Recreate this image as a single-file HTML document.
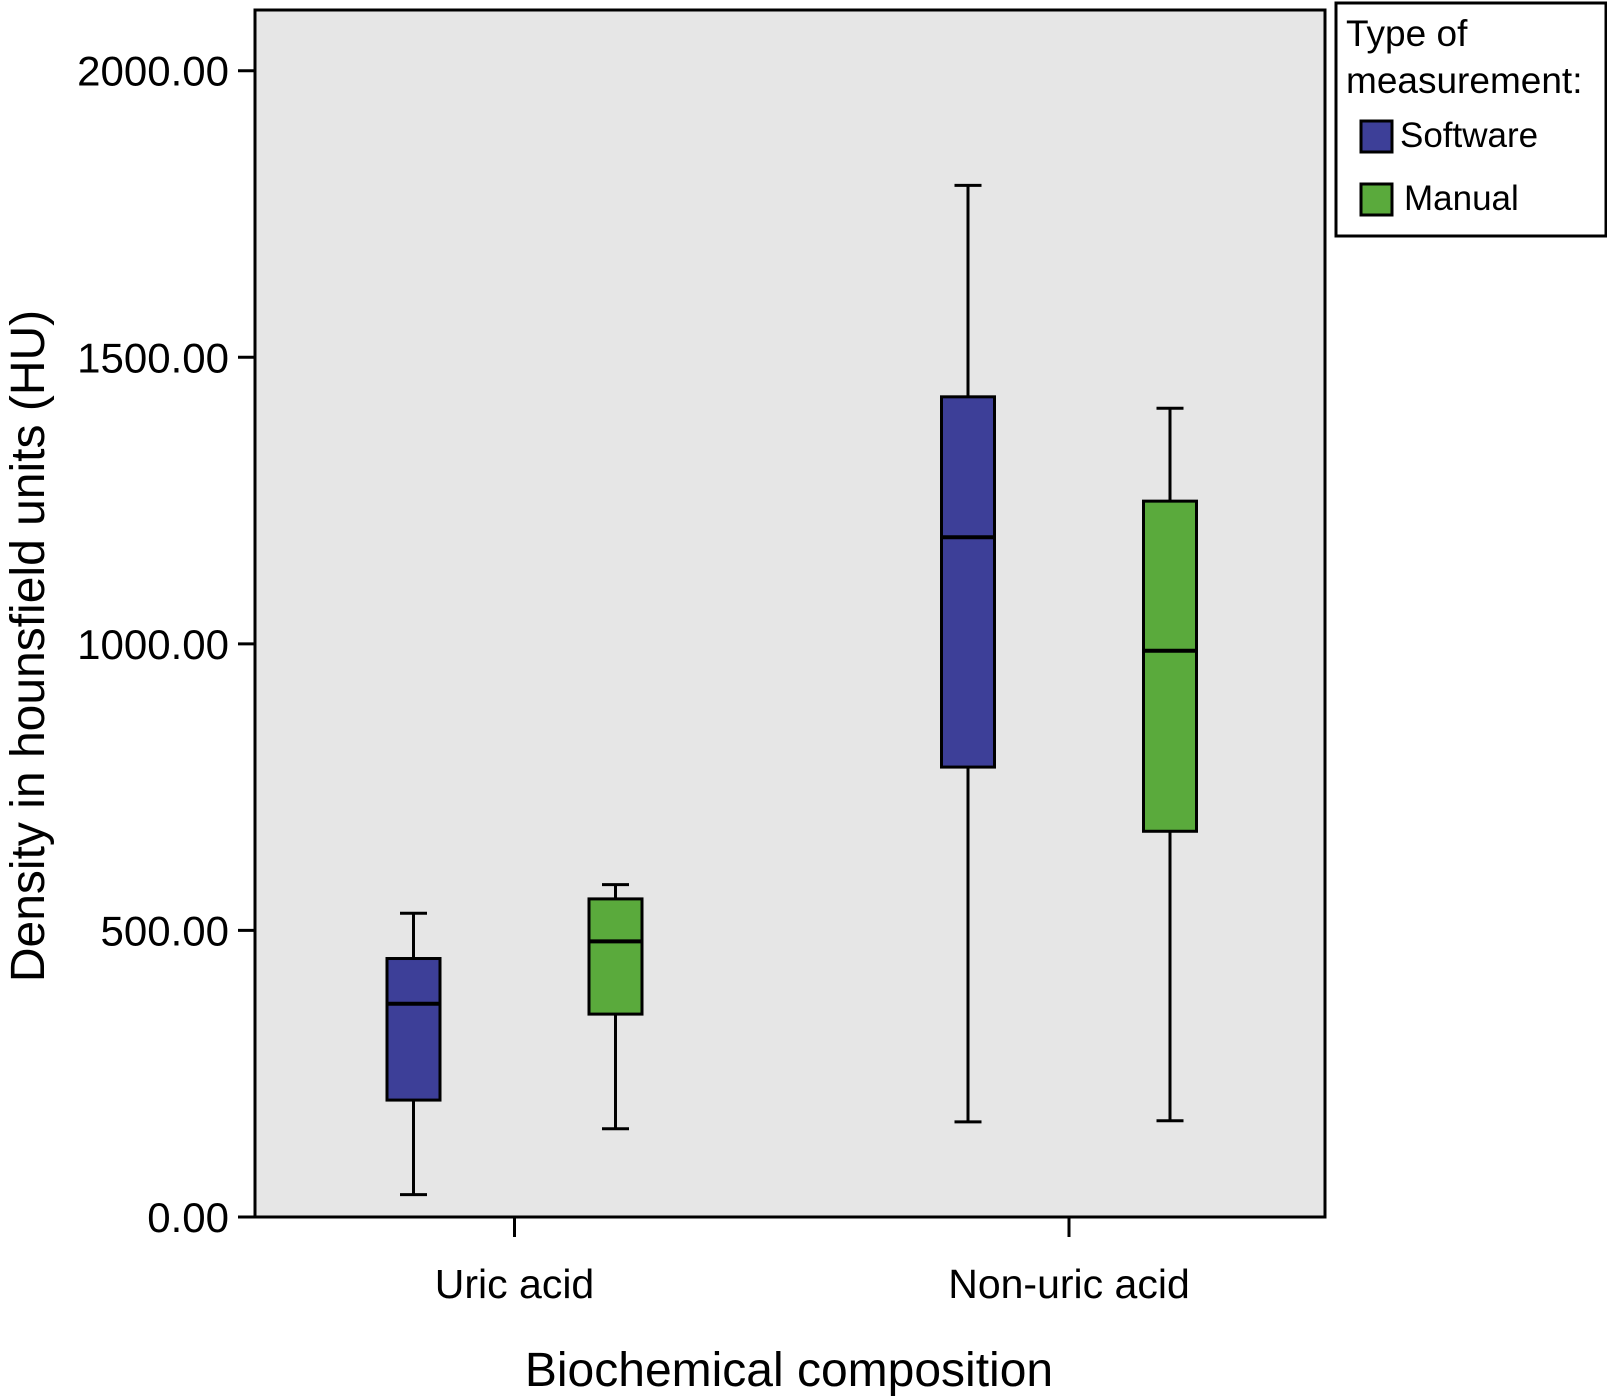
<!DOCTYPE html>
<html><head><meta charset="utf-8"><style>
html,body{margin:0;padding:0;background:#fff;}
svg{display:block;font-family:"Liberation Sans",Arial,sans-serif;}
</style></head><body>
<svg id="chart" width="1607" height="1400" viewBox="0 0 1607 1400">
<rect x="255" y="10" width="1070" height="1207" fill="#e6e6e6"/>
<g id="marks"></g>
<rect x="255" y="10" width="1070" height="1207" fill="none" stroke="#000" stroke-width="3"/>
<g id="axes"></g>
<text x="0" y="0" transform="translate(44,646) rotate(-90)" text-anchor="middle" font-size="48">Density in hounsfield units (HU)</text>
<text x="789" y="1386" text-anchor="middle" font-size="48">Biochemical composition</text>
<g>
<rect x="1336" y="3" width="270" height="233" fill="#fff" stroke="#000" stroke-width="3"/>
<text x="1346" y="46" font-size="37">Type of</text>
<text x="1346" y="93" font-size="37">measurement:</text>
<rect x="1361" y="121" width="31" height="31" fill="#3d3f98" stroke="#000" stroke-width="3"/>
<text x="1400" y="147" font-size="35">Software</text>
<rect x="1361" y="184" width="31" height="31" fill="#5aaa3c" stroke="#000" stroke-width="3"/>
<text x="1404" y="210" font-size="35">Manual</text>
</g>
</svg>
<script>
const categories = ["Uric acid", "Non-uric acid"];
const yTicks = [0, 500, 1000, 1500, 2000];
const yTickLabels = ["0.00", "500.00", "1000.00", "1500.00", "2000.00"];
const softwareMin = [39, 166];
const softwareQ1 = [204, 785];
const softwareMedian = [372, 1186];
const softwareQ3 = [451, 1431];
const softwareMax = [530, 1800];
const manualMin = [154, 168];
const manualQ1 = [354, 673];
const manualMedian = [481, 988];
const manualQ3 = [555, 1249];
const manualMax = [580, 1411];

const NS = "http://www.w3.org/2000/svg";
const plotL = 255, plotR = 1325, plotT = 10, plotB = 1217;
function yScale(v){ return plotB - v * (plotB - 70.7) / 2000; }
function xScale(i){ return 514.5 + i * (1069 - 514.5); }
function mk(tag, attrs, parent){ const e = document.createElementNS(NS, tag); for (const k in attrs) e.setAttribute(k, attrs[k]); parent.appendChild(e); return e; }

const marks = document.getElementById('marks');
const axes = document.getElementById('axes');
const boxW = 53, capW = 27, offset = 101;
const series = [
  {name:'software', color:'#3d3f98', dx:-offset, mn:softwareMin, q1:softwareQ1, md:softwareMedian, q3:softwareQ3, mx:softwareMax},
  {name:'manual', color:'#5aaa3c', dx:offset, mn:manualMin, q1:manualQ1, md:manualMedian, q3:manualQ3, mx:manualMax}
];
series.forEach(s => {
  categories.forEach((c, i) => {
    const cx = xScale(i) + s.dx;
    const yMx = yScale(s.mx[i]), yQ3 = yScale(s.q3[i]), yMd = yScale(s.md[i]), yQ1 = yScale(s.q1[i]), yMn = yScale(s.mn[i]);
    const g = mk('g', {}, marks);
    
    
    const st = {stroke:'#000', 'stroke-width':3};
    const w1 = mk('line', Object.assign({x1:cx, x2:cx, y1:yMx, y2:yQ3}, st), g);
    
    
    const w2 = mk('line', Object.assign({x1:cx, x2:cx, y1:yQ1, y2:yMn}, st), g);
    
    
    const c1 = mk('line', Object.assign({x1:cx-capW/2, x2:cx+capW/2, y1:yMx, y2:yMx}, st), g);
    
    
    const c2 = mk('line', Object.assign({x1:cx-capW/2, x2:cx+capW/2, y1:yMn, y2:yMn}, st), g);
    
    
    const r = mk('rect', {x:cx-boxW/2, y:yQ3, width:boxW, height:yQ1-yQ3, fill:s.color, stroke:'#000', 'stroke-width':3}, g);
    
    
    const m = mk('line', {x1:cx-boxW/2, x2:cx+boxW/2, y1:yMd, y2:yMd, stroke:'#000', 'stroke-width':4}, g);
    
    
  });
});
yTicks.forEach((v, i) => {
  const y = yScale(v);
  const t = mk('line', {x1:238, x2:plotL, y1:y, y2:y, stroke:'#000', 'stroke-width':3}, axes);
  
  
  const l = mk('text', {x:229, y:y+15, 'text-anchor':'end', 'font-size':42}, axes);
  l.textContent = yTickLabels[i];
  
  
});
categories.forEach((c, i) => {
  const x = xScale(i);
  const t = mk('line', {x1:x, x2:x, y1:plotB, y2:1237, stroke:'#000', 'stroke-width':3}, axes);
  
  
  const l = mk('text', {x:x, y:1298, 'text-anchor':'middle', 'font-size':41}, axes);
  l.textContent = c;
  
  
});
</script>
</body></html>
